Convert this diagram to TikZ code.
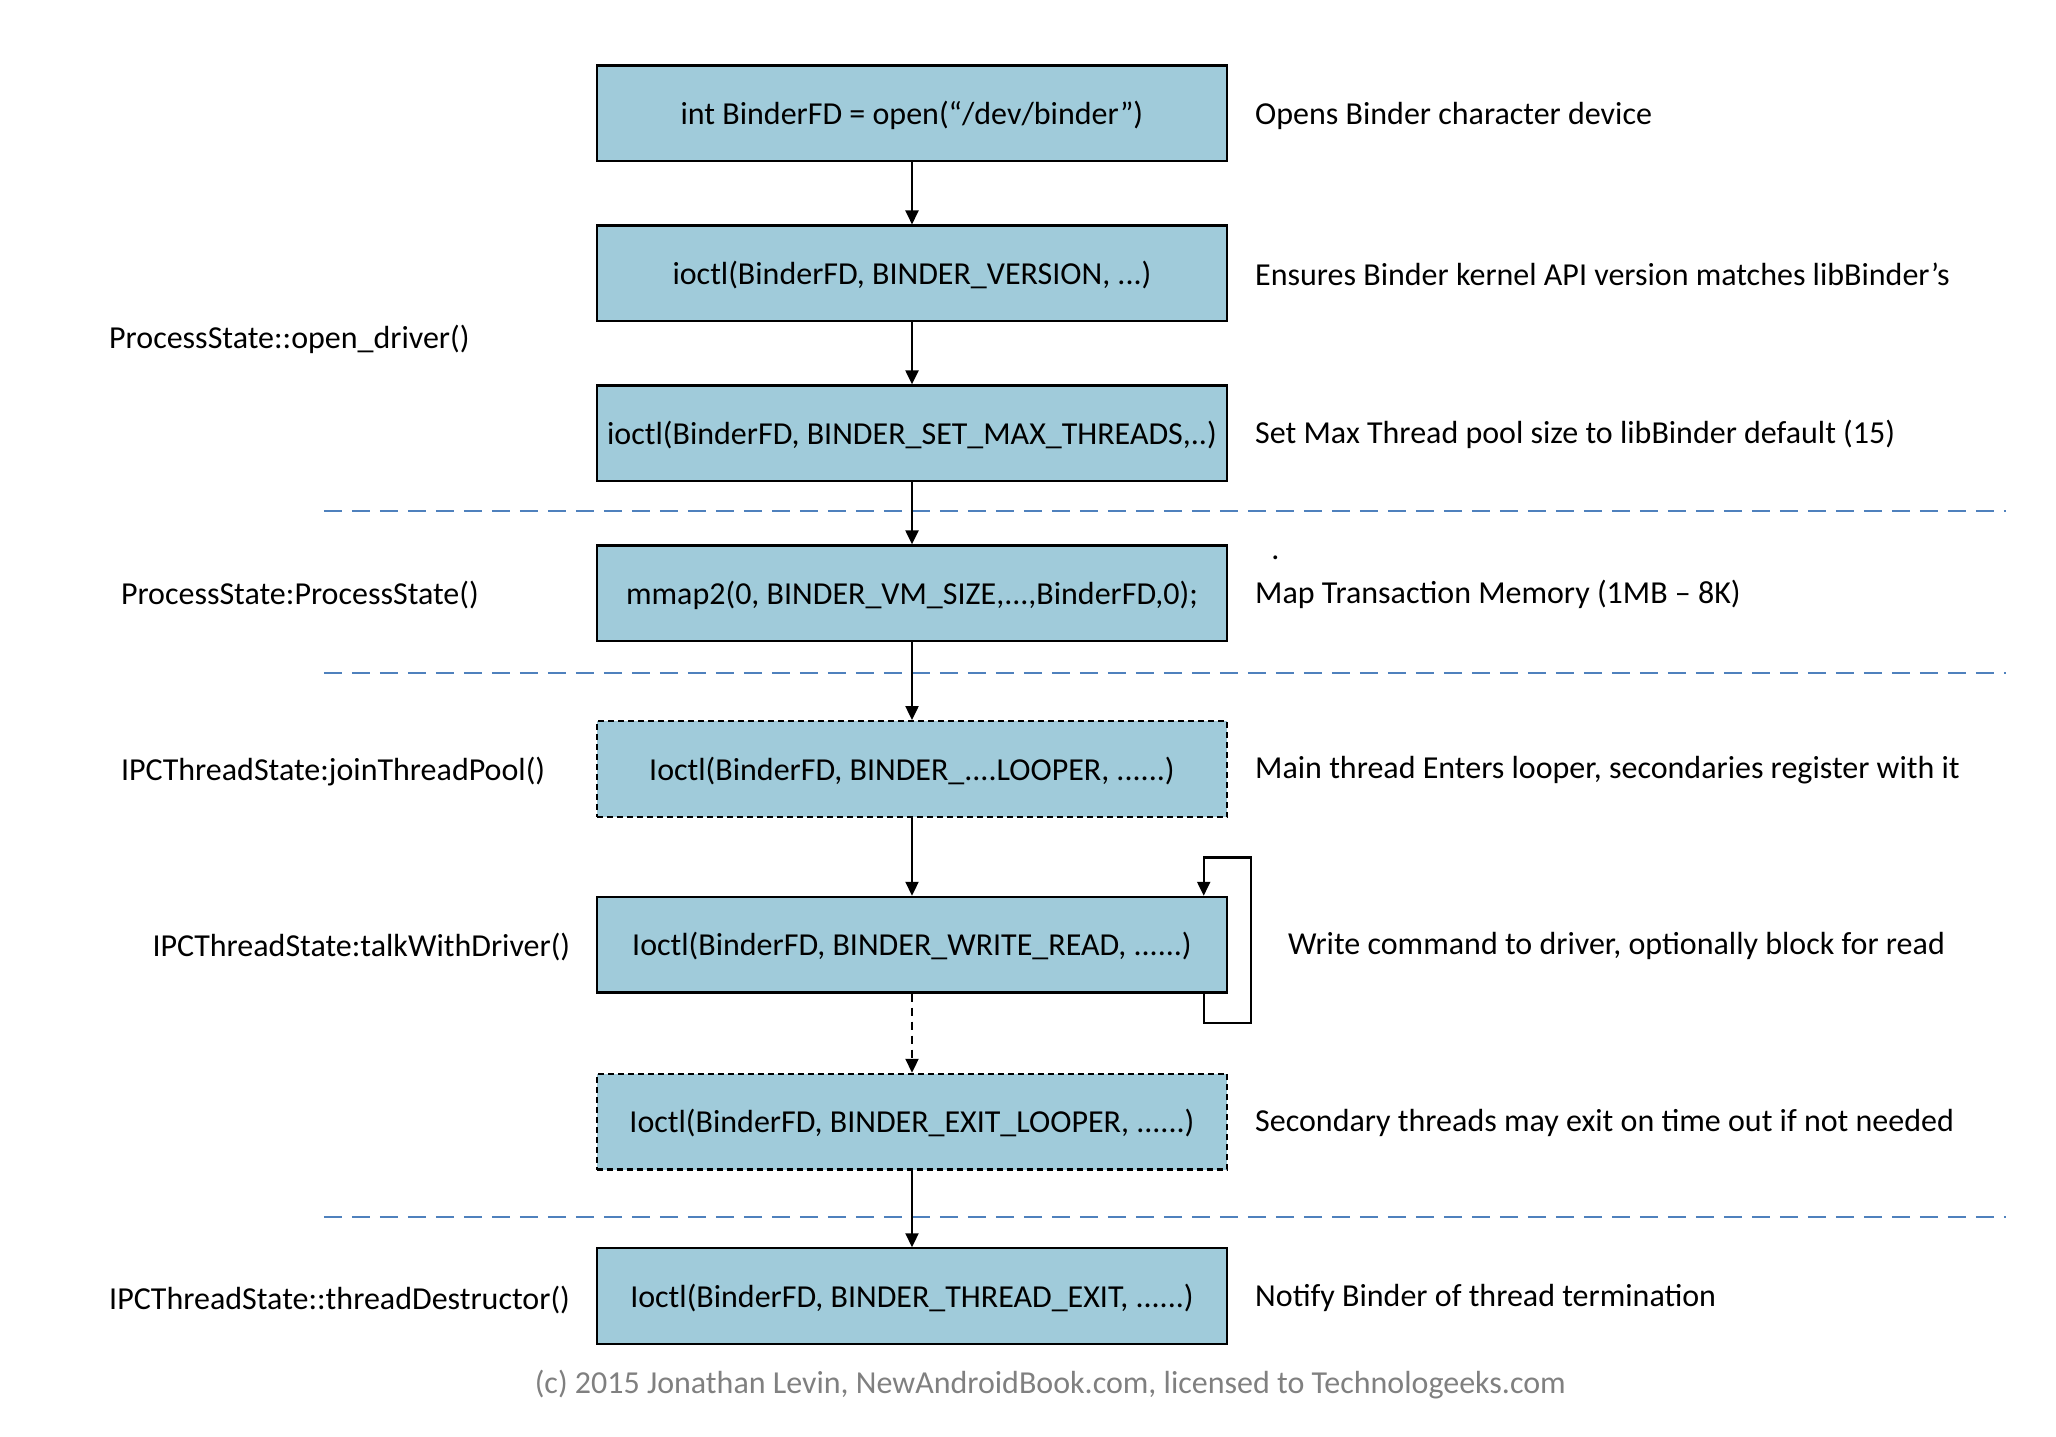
\documentclass[tikz,border=0pt]{standalone}
\usepackage{fontspec}
\setmainfont{Carlito}
\usetikzlibrary{arrows.meta}
\definecolor{boxfill}{HTML}{A0CBDA}
\definecolor{sepblue}{HTML}{4F81BD}
\definecolor{footgray}{HTML}{808080}
\begin{document}
\begin{tikzpicture}[x=0.5pt,y=-0.5pt,
  txt/.style={font=\fontsize{16}{19}\selectfont},
  stepbox/.style={txt,draw=black,line width=1.1pt,fill=boxfill,minimum width=315.35pt,minimum height=47.85pt,inner sep=0pt,text height=14pt,text depth=3pt},
  dbox/.style={stepbox,dash pattern=on 3pt off 2pt},
  note/.style={txt,anchor=west,inner sep=0pt},
  flow/.style={line width=1.1pt,-{Triangle[width=6.5pt,length=7pt]}},
  sepline/.style={sepblue,line width=1pt,dash pattern=on 9pt off 5pt}]
\useasboundingbox (0,0) rectangle (2056,1436);
% separators
\coordinate (s1a) at (323.9,511.4); \coordinate (s1b) at (2006,511.4);
\coordinate (s2a) at (323.9,672.6); \coordinate (s2b) at (2006,672.6);
\coordinate (s3a) at (323.9,1216.8); \coordinate (s3b) at (2006,1216.8);
\draw[sepline] (s1a) -- (s1b);
\draw[sepline] (s2a) -- (s2b);
\draw[sepline] (s3a) -- (s3b);
% boxes
\node[stepbox] (b1) at (912,113.4) {int BinderFD = open(“/dev/binder”)};
\node[stepbox] (b2) at (912,273.4) {ioctl(BinderFD, BINDER\_VERSION, ...)};
\node[stepbox] (b3) at (912,433.3) {ioctl(BinderFD, BINDER\_SET\_MAX\_THREADS,..)};
\node[stepbox] (b4) at (912,593.3) {mmap2(0, BINDER\_VM\_SIZE,...,BinderFD,0);};
\node[dbox] (b5) at (912,769.0) {Ioctl(BinderFD, BINDER\_....LOOPER, ......)};
\node[stepbox] (b6) at (912,944.7) {Ioctl(BinderFD, BINDER\_WRITE\_READ, ......)};
\node[dbox] (b7) at (912,1121.7) {Ioctl(BinderFD, BINDER\_EXIT\_LOOPER, ......)};
\node[stepbox] (b8) at (912,1296.2) {Ioctl(BinderFD, BINDER\_THREAD\_EXIT, ......)};
% connectors
\draw[flow] (b1) -- (b2);
\draw[flow] (b2) -- (b3);
\draw[flow] (b3) -- (b4);
\draw[flow] (b4) -- (b5);
\draw[flow] (b5) -- (b6);
\draw[flow,dash pattern=on 4pt off 3pt] (b6) -- (b7);
\draw[flow] (b7) -- (b8);
% loop
\coordinate (lx) at (1203.7,0);
\coordinate (loopbr) at (1250.9,1022.7);
\coordinate (looptr) at (1250.9,857.5);
\draw[flow] (b6.south -| lx) |- (loopbr) -- (looptr) -- (looptr -| lx) -- (b6.north -| lx);
% right notes
\node[note] (n1) at (1254.8,115.5) {Opens Binder character device};
\node[note] (n2) at (1254.8,274) {Ensures Binder kernel API version matches libBinder’s};
\node[note] (n3) at (1254.8,434) {Set Max Thread pool size to libBinder default (15)};
\node[note] (n4) at (1254.8,594.5) {Map Transaction Memory (1MB – 8K)};
\node[note] (n5) at (1254.8,770.5) {Main thread Enters looper, secondaries register with it};
\node[note] (n6) at (1287.6,946.2) {Write command to driver, optionally block for read};
\node[note] (n7) at (1254.8,1123.2) {Secondary threads may exit on time out if not needed};
\node[note] (n8) at (1254.8,1297.7) {Notify Binder of thread termination};
\node[note] (dot) at (1271,558) {.};
% left labels
\node[note] (l1) at (108.8,339.8) {ProcessState::open\_driver()};
\node[note] (l2) at (120.6,595.5) {ProcessState:ProcessState()};
\node[note] (l3) at (120.6,771.2) {IPCThreadState:joinThreadPool()};
\node[note] (l4) at (152.1,946.9) {IPCThreadState:talkWithDriver()};
\node[note] (l5) at (108.8,1299.5) {IPCThreadState::threadDestructor()};
% footer
\node[txt,text=footgray,inner sep=0pt] (foot) at (1050.3,1384.8) {(c) 2015 Jonathan Levin, NewAndroidBook.com, licensed to Technologeeks.com};
\end{tikzpicture}
\end{document}
